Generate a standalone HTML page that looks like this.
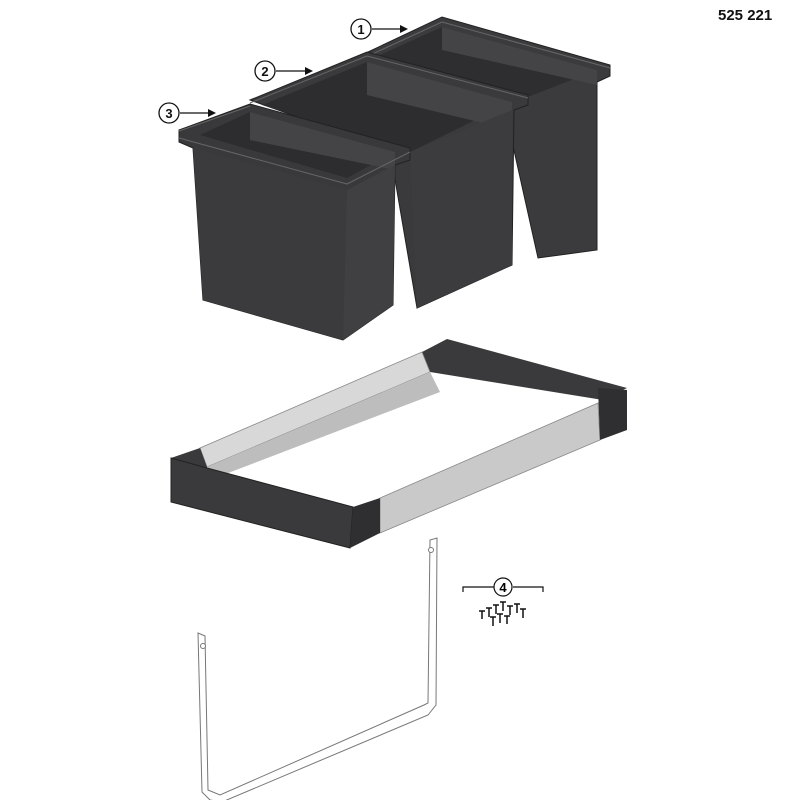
<!DOCTYPE html>
<html><head><style>body{margin:0;background:#fff}svg{display:block}</style></head><body>
<svg width="800" height="800" viewBox="0 0 800 800" xmlns="http://www.w3.org/2000/svg" font-family="Liberation Sans, sans-serif">
<rect width="800" height="800" fill="#fff"/>
<text x="718" y="20" font-size="15" font-weight="bold" fill="#111">525 221</text>
<g stroke="#111" fill="#fff" stroke-width="1.3">
<circle cx="361" cy="29" r="10"/><circle cx="265" cy="71" r="10"/><circle cx="169" cy="113" r="10"/>
<line x1="372" y1="29" x2="404" y2="29"/><line x1="276" y1="71" x2="309" y2="71"/><line x1="180" y1="113" x2="212" y2="113"/>
</g>
<g fill="#111"><polygon points="408,29 400,25 400,33"/><polygon points="313,71 305,67 305,75"/><polygon points="216,113 208,109 208,117"/></g>
<g font-size="13" font-weight="bold" text-anchor="middle" fill="#111"><text x="361" y="34">1</text><text x="265" y="76">2</text><text x="169" y="118">3</text></g>
<!-- bin 1 -->
<polygon points="368,52 442,17 610,65 610,76 597,82 597,250 538,258 505,110" fill="#3b3b3d" stroke="#222"/>
<polygon points="380,55 442,27 597,70 520,100" fill="#2e2e30"/>
<polygon points="442,27 442,50 597,85 597,70" fill="#444447"/>
<line x1="368" y1="56" x2="442" y2="22" stroke="#666"/><line x1="442" y1="22" x2="610" y2="68" stroke="#666"/>
<!-- bin 2 -->
<polygon points="250,100 367,52 528,95 528,105 514,110 512,265 417,308 390,150" fill="#3a3a3c" stroke="#222"/>
<polygon points="262,105 367,62 512,102 410,152" fill="#2d2d2f"/>
<polygon points="367,62 367,95 512,130 512,102" fill="#444447"/>
<polygon points="410,152 512,110 512,265 417,308" fill="#3c3c3e"/>
<line x1="250" y1="103" x2="367" y2="56" stroke="#666"/><line x1="367" y1="56" x2="528" y2="98" stroke="#666"/>
<!-- bin 3 -->
<polygon points="179,130 250,104 410,148 410,160 395,165 393,305 343,340 203,300 193,148 179,142" fill="#39393b" stroke="#222"/>
<polygon points="200,135 250,112 395,152 347,178" fill="#2d2d2f"/>
<polygon points="250,112 250,140 395,170 395,152" fill="#444447"/>
<polygon points="193,148 347,190 343,340 203,300" fill="#3b3b3d"/>
<polygon points="347,190 395,165 393,305 343,340" fill="#404043"/>
<line x1="179" y1="138" x2="347" y2="184" stroke="#666"/>
<line x1="347" y1="184" x2="410" y2="152" stroke="#666"/>
<line x1="179" y1="131" x2="250" y2="106" stroke="#666"/>
<!-- frame -->
<polygon points="422,352 447,339 627,388 603,400 430,372" fill="#3a3a3c"/>
<polygon points="200,448 422,352 430,372 207,467" fill="#d8d8d8" stroke="#888" stroke-width="0.8"/>
<polygon points="207,467 430,372 440,392 215,478" fill="#bdbdbd"/>
<polygon points="171,458 200,448 207,467 207,475 171,470" fill="#3a3a3c"/>
<polygon points="171,458 207,468 353,507 350,548 171,502" fill="#3a3a3c" stroke="#222"/>
<polygon points="380,498 598,403 600,440 380,533" fill="#c9c9c9" stroke="#888" stroke-width="0.8"/>
<polygon points="353,507 380,498 380,533 350,548" fill="#2f2f31"/>
<polygon points="598,388 627,390 627,430 600,440" fill="#2f2f31"/>
<!-- bracket -->
<g fill="#fff" stroke="#777" stroke-width="1">
<polygon points="198,633 205,636 208,790 220,795 424,705 428,703 430,540 437,538 436,705 428,715 222,802 210,800 202,792"/>
<circle cx="203" cy="646" r="2.5"/><circle cx="431" cy="550" r="2.5"/>
</g>
<g stroke="#111" fill="none" stroke-width="1.2">
<path d="M463,592 V587 H494 M513,587 H543 V592"/>
<circle cx="503" cy="587" r="9" fill="#fff"/>
</g>
<text x="503" y="592" font-size="13" font-weight="bold" text-anchor="middle">4</text>
<g stroke="#111" stroke-width="1.5">
<path d="M479,611 h6 M482,611 v8 M486,608 h6 M489,608 v9 M493,605 h6 M496,605 v9 M500,602 h6 M503,602 v9 M507,606 h6 M510,606 v9 M514,604 h6 M517,604 v9 M520,609 h6 M523,609 v9 M490,617 h6 M493,617 v9 M497,614 h6 M500,614 v9 M504,616 h6 M507,616 v8"/>
</g>
</svg>
</body></html>
